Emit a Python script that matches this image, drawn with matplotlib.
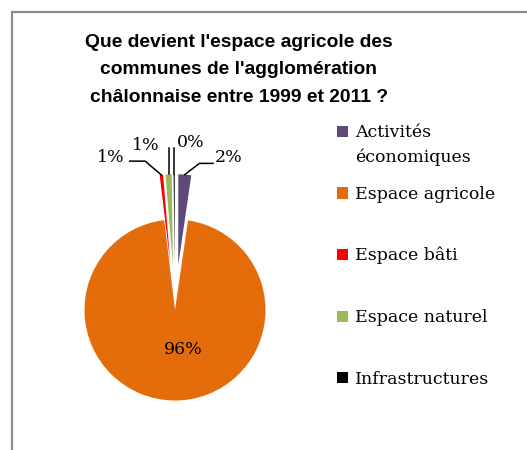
import numpy as np
import matplotlib.pyplot as plt
from matplotlib.patches import Rectangle

# données
categories = ["Activités\néconomiques", "Espace agricole", "Espace bâti",
              "Espace naturel", "Infrastructures"]
valeurs = [2.3, 95.8, 0.6, 1.1, 0.2]
couleurs = ["#5F497A", "#E46C0A", "#FF0000", "#9BBB59", "#000000"]
eclatement = [0.5, 0.0, 0.5, 0.5, 0.5]

titre = "Que devient l'espace agricole des\ncommunes de l'agglomération\nchâlonnaise entre 1999 et 2011 ?"

W, H = 527, 450
fig = plt.figure(figsize=(W / 100, H / 100), dpi=100)

# cadre gris (seuls les bords haut et gauche sont visibles)
fig.add_artist(Rectangle((12 / W, -0.1), 1.2, (H - 12) / H + 0.1,
                         transform=fig.transFigure, fill=False,
                         edgecolor="#8C8C8C", linewidth=1.6))

# axes : centre du camembert à (175, 310) px, rayon 90.5 px
cx, cy, r = 175, 310, 90.5
left, right, top, bottom = 40, 310, 110, 425
ax = fig.add_axes([left / W, (H - bottom) / H, (right - left) / W, (bottom - top) / H])

wedges, _ = ax.pie(valeurs, colors=couleurs, explode=eclatement, startangle=90,
                   counterclock=False, radius=1, center=(0, 0),
                   wedgeprops=dict(linewidth=0), frame=True)
ax.set_xlim((left - cx) / r, (right - cx) / r)
ax.set_ylim((cy - bottom) / r, (cy - top) / r)
ax.axis("off")

serif = ["DejaVu Serif"]
fs = 12.5

pct = [f"{round(v)}%" for v in valeurs]

# étiquette de la grande part, à l'intérieur
ax.text(0.09, -0.44, pct[1], ha="center", va="center", fontsize=fs, family=serif)

# étiquettes des petites parts avec lignes de rappel
etiquettes = {
    0: (0.44, 1.69, "left"),
    2: (-0.71, 1.69, "center"),
    3: (-0.32, 1.82, "center"),
    4: (0.17, 1.85, "center"),
}
for i, (tx, ty, ha) in etiquettes.items():
    w = wedges[i]
    mid = np.deg2rad((w.theta1 + w.theta2) / 2)
    x0 = (eclatement[i] + 1.0) * np.cos(mid)
    y0 = (eclatement[i] + 1.0) * np.sin(mid)
    if i == 0:
        xs = [x0, 0.27, 0.42]
        ys = [y0, 1.62, 1.62]
    elif i == 2:
        xs = [x0, -0.33, -0.50]
        ys = [y0, 1.645, 1.645]
    else:
        xs = [x0, x0]
        ys = [y0, 1.79]
    ax.plot(xs, ys, color="black", linewidth=1.1, clip_on=False)
    ax.text(tx, ty, pct[i], ha=ha, va="center", fontsize=fs, family=serif)

fig.text(239 / W, 1 - 70 / H, titre, ha="center", va="center", fontsize=13.9,
         fontweight="bold", family="Liberation Sans", linespacing=1.8)

# légende dessinée à la main (carré + texte)
for k, (lab, c) in enumerate(zip(categories, couleurs)):
    yc = 131 + 61.5 * k
    n = lab.count("\n")
    fig.add_artist(Rectangle((337 / W, 1 - (yc + 6) / H), 11 / W, 11 / H,
                             transform=fig.transFigure, facecolor=c,
                             edgecolor="none"))
    fig.text(355 / W, 1 - (yc + 6.5 + 25 * n) / H, lab, ha="left", va="baseline",
             fontsize=fs, family=serif, linespacing=1.6)

fig.savefig("out.png", dpi=100)
